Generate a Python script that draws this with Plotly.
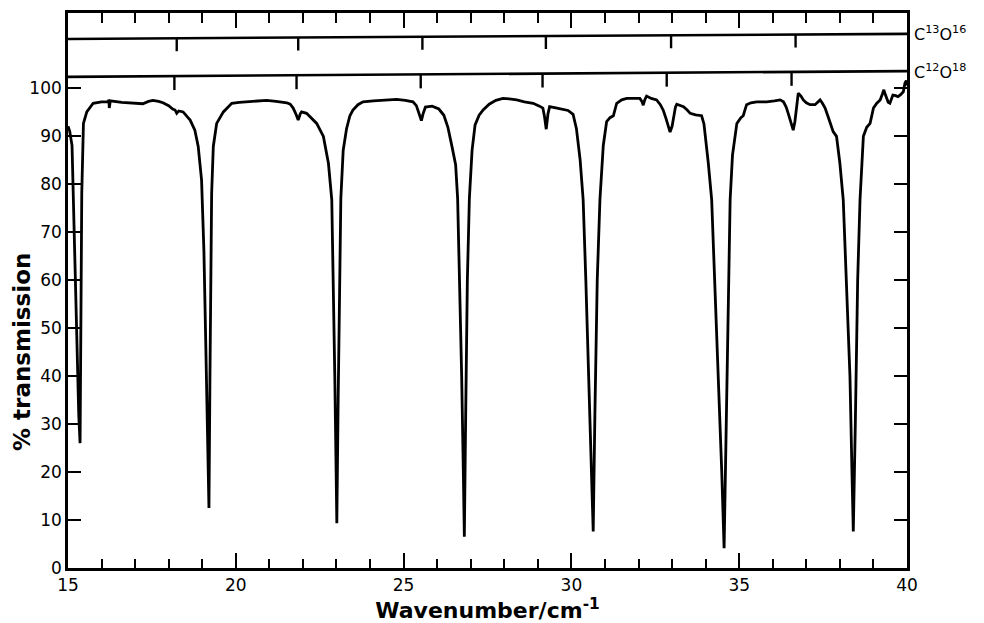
import plotly.graph_objects as go

# ---- data ----
wavenumber = [
    15.00, 15.05, 15.12, 15.16, 15.21, 15.27, 15.32, 15.36, 15.39, 15.41, 15.46, 15.56, 15.75,
    16.00, 16.19, 16.22, 16.23, 16.26, 16.60, 16.90, 17.10, 17.23, 17.40, 17.53, 17.70, 17.83,
    18.00, 18.12, 18.19, 18.24, 18.30, 18.43, 18.55, 18.64, 18.78, 18.88, 18.98, 19.05, 19.11,
    19.16, 19.20, 19.23, 19.26, 19.28, 19.33, 19.43, 19.63, 19.88, 20.10, 20.42, 20.70, 20.92,
    21.20, 21.52, 21.62, 21.71, 21.80, 21.86, 21.92, 21.96, 22.11, 22.25, 22.41, 22.61, 22.76,
    22.86, 22.91, 22.95, 22.99, 23.01, 23.05, 23.09, 23.13, 23.20, 23.30, 23.40, 23.49, 23.64,
    23.79, 24.10, 24.50, 24.79, 25.05, 25.28, 25.38, 25.46, 25.53, 25.58, 25.65, 25.85, 26.05,
    26.20, 26.32, 26.45, 26.55, 26.61, 26.67, 26.73, 26.78, 26.81, 26.85, 26.90, 26.96, 27.04,
    27.13, 27.25, 27.37, 27.55, 27.75, 27.96, 28.15, 28.37, 28.60, 28.86, 29.05, 29.15, 29.20,
    29.25, 29.30, 29.35, 29.50, 29.70, 29.90, 30.05, 30.15, 30.26, 30.35, 30.43, 30.52, 30.60,
    30.65, 30.70, 30.77, 30.85, 30.95, 31.05, 31.15, 31.25, 31.35, 31.50, 31.65, 31.85, 32.04,
    32.10, 32.14, 32.19, 32.24, 32.38, 32.54, 32.65, 32.74, 32.82, 32.88, 32.94, 33.00, 33.05,
    33.10, 33.14, 33.25, 33.34, 33.45, 33.54, 33.70, 33.88, 33.95, 34.00, 34.08, 34.18, 34.27,
    34.39, 34.48, 34.55, 34.61, 34.67, 34.73, 34.80, 34.93, 35.05, 35.12, 35.22, 35.35, 35.52,
    35.82, 36.05, 36.22, 36.32, 36.40, 36.46, 36.54, 36.61, 36.66, 36.70, 36.76, 36.84, 36.91,
    37.00, 37.11, 37.26, 37.34, 37.41, 37.48, 37.56, 37.65, 37.73, 37.80, 37.90, 37.95, 38.00,
    38.10, 38.19, 38.30, 38.36, 38.40, 38.46, 38.53, 38.60, 38.70, 38.80, 38.90, 38.96, 39.00,
    39.10, 39.20, 39.27, 39.31, 39.36, 39.39, 39.44, 39.49, 39.54, 39.58, 39.66, 39.73, 39.81,
    39.89, 39.94, 39.98, 40.00,
]
transmission = [
    92, 91, 88, 76, 60, 45, 32, 26, 50, 78, 92.6, 95, 96.8,
    97.1, 97.1, 97.5, 95.8, 97.3, 97.0, 96.9, 96.7, 96.7, 97.2, 97.4, 97.2, 96.9,
    96.3, 95.6, 95.4, 94.7, 95.2, 95.0, 94.0, 93.3, 91.2, 87.8, 80.8, 66, 45,
    25, 12.5, 40, 68, 78, 87.8, 92.6, 95.0, 96.8, 97.0, 97.1, 97.2, 97.4,
    97.2, 96.9, 96.6, 95.8, 94.4, 93.3, 94.6, 95.0, 94.7, 93.8, 92.6, 89.9, 84.3,
    76.7, 60, 40, 20, 9.3, 35, 62, 77, 87, 91.5, 94.2, 95.4, 96.5,
    97.1, 97.3, 97.4, 97.6, 97.4, 97.1, 96.3, 94.8, 93.2, 94.6, 96.0, 96.2, 95.6,
    94.3, 91.8, 87.5, 84, 77, 60, 40, 20, 6.5, 32, 60, 77, 87,
    92.3, 94.3, 95.4, 96.6, 97.4, 97.8, 97.7, 97.5, 97.1, 96.8, 96.2, 95.8, 94.0,
    91.4, 94.5, 96.1, 95.9, 95.6, 95.3, 94.5, 91.5, 85, 76.7, 60, 40, 20,
    7.6, 32, 60, 76.7, 88, 93, 93.8, 94.2, 96.8, 97.5, 97.8, 97.8, 97.8,
    97.2, 96.4, 97.6, 98.3, 97.8, 97.5, 96.5, 95.3, 93.6, 92.0, 90.8, 92.0, 93.8,
    96.0, 96.6, 96.4, 96.1, 95.4, 94.7, 94.4, 94.2, 92.5, 89.5, 84.3, 76.7, 60,
    40, 20, 4.1, 30, 60, 76.7, 86, 92.6, 93.8, 94.2, 96.5, 96.9, 97.1,
    97.1, 97.3, 97.5, 97.1, 96.0, 94.7, 92.8, 91.2, 93.0, 95.5, 98.9, 98.3, 97.5,
    96.9, 96.5, 96.5, 97.0, 97.5, 96.8, 95.8, 94.0, 92.3, 90.9, 89.9, 87.5, 84.3,
    76.7, 60, 40, 20, 7.6, 30, 60, 76.7, 89.9, 91.8, 92.6, 94.5, 95.8,
    96.8, 97.5, 98.8, 99.6, 98.5, 97.8, 97.0, 96.8, 97.9, 98.5, 98.4, 98.2, 98.6,
    99.2, 101, 101.5, 100.5,
]

# axis scales: major ticks every 5 cm-1, minor every 1 cm-1, y ticks every 10 %
x_tick_start = 15
x_major_step = 5
x_minor_step = 1
y_tick_values = [0, 10, 20, 30, 40, 50, 60, 70, 80, 90, 100]
y_tick_labels = ["0", "10", "20", "30", "40", "50", "60", "70", "80", "90", "100"]

# isotopologue line-position scales (upper strips)
c13o16_lines = [18.24, 21.86, 25.56, 29.24, 32.97, 36.68]
c12o18_lines = [18.17, 21.81, 25.51, 29.14, 32.84, 36.56]
strip_x_ends = [15, 40]
c13o16_level = [110.2, 111.25]
c12o18_level = [102.3, 103.5]
strip_labels = ["C<sup>13</sup>O<sup>16</sup>", "C<sup>12</sup>O<sup>18</sup>"]

Y_TOP = 115.6
FONT = "DejaVu Sans"


def level_at(x, level):
    x0, x1 = strip_x_ends
    return level[0] + (level[1] - level[0]) * (x - x0) / (x1 - x0)


def tick_path(positions, level, length):
    xs, ys = [], []
    for p in positions:
        top = level_at(p, level)
        xs += [p, p, None]
        ys += [top, top - length, None]
    return xs, ys


fig = go.Figure()

fig.add_trace(go.Scatter(
    x=wavenumber, y=transmission, mode="lines",
    line=dict(color="black", width=2.8), showlegend=False, hoverinfo="skip",
))

# strip lines: the C13O16 one is bound to the top axis so that axis is drawn
for level, xref in ((c13o16_level, "x2"), (c12o18_level, "x")):
    fig.add_trace(go.Scatter(
        x=strip_x_ends, y=level, mode="lines", xaxis=xref, yaxis="y",
        line=dict(color="black", width=2.6), showlegend=False, hoverinfo="skip",
    ))

for positions, level, length in ((c13o16_lines, c13o16_level, 2.7),
                                 (c12o18_lines, c12o18_level, 2.9)):
    xs, ys = tick_path(positions, level, length)
    fig.add_trace(go.Scatter(
        x=xs, y=ys, mode="lines",
        line=dict(color="black", width=2.4), showlegend=False, hoverinfo="skip",
    ))

for label, level in zip(strip_labels, (c13o16_level, c12o18_level)):
    fig.add_annotation(
        x=1, xref="paper", y=level[1], yref="y", text=label, showarrow=False,
        xanchor="left", yanchor="middle", xshift=5,
        font=dict(family=FONT, size=16, color="black"),
    )

fig.add_annotation(
    x=0, xref="paper", xshift=-46, y=45, yref="y",
    text="% transmission", textangle=-90, showarrow=False,
    xanchor="center", yanchor="middle",
    font=dict(family=FONT, size=23, color="black", weight="bold"),
)

minor_ticks = dict(tickmode="linear", tick0=x_tick_start, dtick=x_minor_step,
                   ticks="inside", ticklen=9, tickwidth=2.4, tickcolor="black", showgrid=False)

fig.update_layout(
    xaxis=dict(
        range=[15, 40], tickmode="linear", tick0=x_tick_start, dtick=x_major_step,
        ticks="inside", ticklen=15, tickwidth=2.4, tickcolor="black",
        minor=minor_ticks,
        showline=True, linewidth=2.6, linecolor="black", mirror=True,
        showgrid=False, zeroline=False,
        tickfont=dict(family=FONT, size=17, color="black"),
        title=dict(text="Wavenumber/cm<sup>-1</sup>", standoff=9,
                   font=dict(family=FONT, size=22, color="black", weight="bold")),
    ),
    xaxis2=dict(
        overlaying="x", side="top", anchor="y", matches="x",
        range=[15, 40], tickmode="linear", tick0=x_tick_start, dtick=x_major_step,
        ticks="inside", ticklen=15, tickwidth=2.4, tickcolor="black",
        minor=dict(minor_ticks, ticklen=10),
        showticklabels=False, showline=False, showgrid=False, zeroline=False,
    ),
    yaxis=dict(
        range=[0, Y_TOP], tickmode="array", tickvals=y_tick_values, ticktext=y_tick_labels,
        ticks="inside", ticklen=13, tickwidth=2.4, tickcolor="black",
        showline=True, linewidth=2.6, linecolor="black", mirror="ticks",
        showgrid=False, zeroline=False,
        tickfont=dict(family=FONT, size=17, color="black"),
    ),
    # the page body adds an 8 px margin, so the figure is sized to fit the window
    width=976, height=615,
    margin=dict(l=60, r=77, t=5, b=55, autoexpand=False),
    paper_bgcolor="white", plot_bgcolor="white",
    showlegend=False,
)

fig.write_html("out.html")
